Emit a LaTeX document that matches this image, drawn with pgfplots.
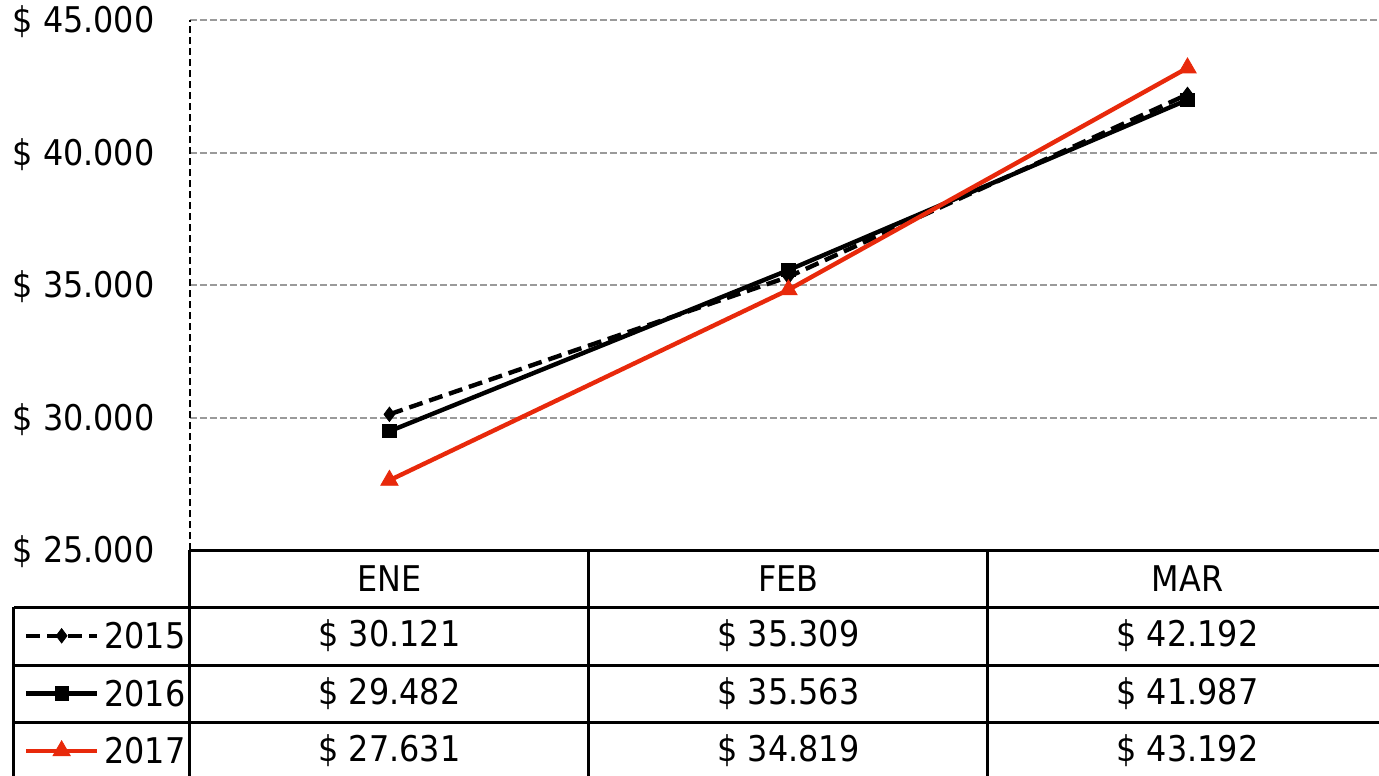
\documentclass[border=0pt]{standalone}
\usepackage{pgfplots}
\pgfplotsset{compat=1.18}
\usepackage{fontspec}
\setmainfont{DejaVu Sans Condensed}
\definecolor{redline}{HTML}{E8290B}
\definecolor{gridgray}{HTML}{9A9A9A}
\newcommand{\fs}{\fontsize{17.7}{20}\selectfont}

\begin{document}
\begin{tikzpicture}
\begin{axis}[
  scale only axis, width=594.5pt, height=265pt,
  xmin=-0.5, xmax=2.48, ymin=25000, ymax=45000,
  clip=false,
  scaled y ticks=false,
  axis line style={draw=none},
  xtick={0,1,2}, xticklabels={ENE,FEB,MAR},
  xticklabel style={anchor=center, yshift=-14.5pt, font=\fs},
  ytick={25000,30000,35000,40000,45000},
  yticklabels={\$ 25.000,\$ 30.000,\$ 35.000,\$ 40.000,\$ 45.000},
  yticklabel style={anchor=east, inner sep=0pt, xshift=-17.5pt, yshift=-1pt, font=\fs},
  major tick length=0pt,
  ymajorgrids, grid style={gridgray, line width=1pt, dash pattern=on 3.5pt off 1.5pt},
  legend style={at={(axis cs:-0.916,22849)}, anchor=north west, draw=none, fill=none,
    inner sep=0pt, outer sep=0pt, row sep=0pt, column sep=2.5pt,
    nodes={inner sep=0pt, text height=20.825pt, text depth=7.925pt, font=\fs}},
  legend cell align=left,
  legend image code/.code={
    \path[draw=none,fill=none] (0pt,-14.375pt) rectangle (35.5pt,14.375pt);
    \draw[mark repeat=2,mark phase=2,#1] plot coordinates {(0pt,0pt)(17.75pt,0pt)(35.5pt,0pt)};
  },
]
\addplot[black, line width=2.2pt, dash pattern=on 7pt off 3.5pt, mark=diamond*, mark size=3.6pt,
  mark options={solid, line width=0.4pt}]
  coordinates {(0,30121) (1,35309) (2,42192)};
\addlegendentry{2015}
\addplot[black, line width=2.2pt, mark=square*, mark size=3.3pt, mark options={solid, line width=0.4pt}]
  coordinates {(0,29482) (1,35563) (2,41987)};
\addlegendentry{2016}
\addplot[redline, line width=2.2pt, mark=triangle*, mark size=5pt, mark options={solid, line width=0.4pt}]
  coordinates {(0,27631) (1,34819) (2,43192)};
\addlegendentry{2017}

% y axis line (dashed)
\draw[black, line width=1pt, dash pattern=on 3.5pt off 2pt] (axis cs:-0.5,25000) -- (axis cs:-0.5,45000);
% data table grid
\draw[black, line width=1.5pt] (axis cs:-0.5,25000) -- (axis cs:2.6,25000);
\draw[black, line width=1.5pt] (axis cs:-0.941,22849) -- (axis cs:2.6,22849);
\draw[black, line width=1.5pt] (axis cs:-0.941,20660) -- (axis cs:2.6,20660);
\draw[black, line width=1.5pt] (axis cs:-0.941,18509) -- (axis cs:2.6,18509);
\draw[black, line width=1.5pt] (axis cs:-0.5,25000) -- (axis cs:-0.5,16000);
\draw[black, line width=1.5pt] (axis cs:0.5,25000) -- (axis cs:0.5,16000);
\draw[black, line width=1.5pt] (axis cs:1.5,25000) -- (axis cs:1.5,16000);
\draw[black, line width=1.5pt] (axis cs:-0.941,22849) -- (axis cs:-0.941,16000);
% data table values
\node[font=\fs] at (axis cs:0,21755) {\$ 30.121};
\node[font=\fs] at (axis cs:1,21755) {\$ 35.309};
\node[font=\fs] at (axis cs:2,21755) {\$ 42.192};
\node[font=\fs] at (axis cs:0,19585) {\$ 29.482};
\node[font=\fs] at (axis cs:1,19585) {\$ 35.563};
\node[font=\fs] at (axis cs:2,19585) {\$ 41.987};
\node[font=\fs] at (axis cs:0,17415) {\$ 27.631};
\node[font=\fs] at (axis cs:1,17415) {\$ 34.819};
\node[font=\fs] at (axis cs:2,17415) {\$ 43.192};

\coordinate (BL) at (axis cs:-0.976,16509);
\coordinate (TR) at (axis cs:2.48,45755);
\end{axis}
\pgfresetboundingbox
\path[use as bounding box] (BL) rectangle (TR);
\end{tikzpicture}
\end{document}
